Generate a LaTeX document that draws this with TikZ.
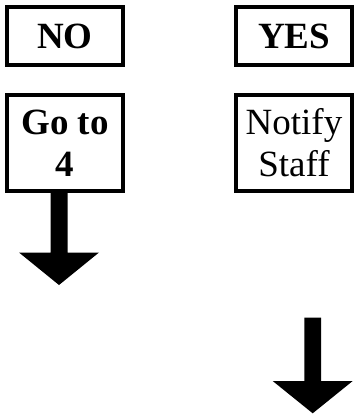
\documentclass[tikz,border=0pt]{standalone}
\usepackage{fontspec}
\setmainfont{Liberation Serif}
\begin{document}
\begin{tikzpicture}[x=1pt,y=-1pt,
  box/.style={draw=black,line width=4pt,minimum width=116pt,inner sep=0pt,
    align=center,font=\fontsize{37}{42}\selectfont},
  blockarrow/.style={fill=black,draw=none}]
\useasboundingbox (0,0) rectangle (354,415);
% answer boxes
\node[box,minimum height=58pt] (no)  at (65,36)  {\bfseries NO};
\node[box,minimum height=58pt] (yes) at (294,36) {\bfseries YES};
% action boxes
\node[box,minimum height=96pt] (goto)   at (65,143)  {\bfseries Go to\\\bfseries 4};
\node[box,minimum height=96pt] (notify) at (294,143) {Notify\\Staff};
% block arrow below "Go to 4"
\fill[blockarrow] ([xshift=-14.5pt]goto.south) -- ++(0,59.5) -- ++(-31.5,0) -- ++(40,32.5)
  -- ++(40,-32.5) -- ++(-31.5,0) -- ++(0,-59.5) -- cycle;
% free-standing block arrow on the right
\coordinate (rtop) at (312.7,317.5);
\fill[blockarrow] ([xshift=-8.3pt]rtop) -- ++(0,63.5) -- ++(-31.7,0) -- ++(40,32.3)
  -- ++(40,-32.3) -- ++(-31.7,0) -- ++(0,-63.5) -- cycle;
\end{tikzpicture}
\end{document}
